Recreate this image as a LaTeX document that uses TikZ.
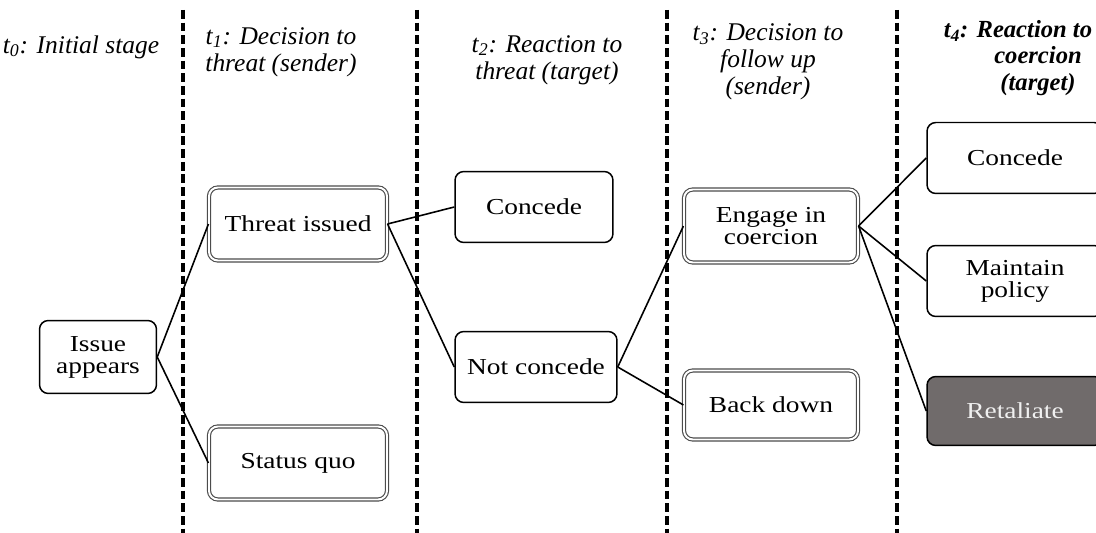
\documentclass[tikz,border=0pt]{standalone}
\usepackage{fontspec}
\setmainfont{Liberation Serif}
\newfontfamily\boxfont{Liberation Serif}[FakeStretch=1.2]
\usepackage{tikz}
\usepackage{xcolor}
\usetikzlibrary{positioning}
\definecolor{retalfill}{RGB}{112,107,107}
\definecolor{retaltext}{RGB}{240,240,240}
\begin{document}
\begin{tikzpicture}[x=0.02cm, y=-0.02cm,
		choice/.style={draw, rounded corners=5pt, line width=0.85pt, minimum height=1.42cm, align=center, inner sep=2pt, font=\boxfont\fontsize{13}{12.5}\selectfont},
		move/.style={choice, double, double distance=1.1pt, draw=black!70, line width=0.65pt, minimum height=1.46cm},
		stage/.style={align=center, font=\fontsize{14.5}{15.5}\selectfont\itshape},
		divider/.style={line width=2.3pt, dash pattern=on 5pt off 2.2pt},
		branch/.style={line width=0.9pt}]
				\useasboundingbox (0,0) rectangle (1096,533);
				% stage dividers
				\coordinate (d1top) at (183,10);
				\coordinate (d1bot) at (183,533);
				\coordinate (d2top) at (417,10);
				\coordinate (d2bot) at (417,533);
				\coordinate (d3top) at (667,10);
				\coordinate (d3bot) at (667,533);
				\coordinate (d4top) at (897,10);
				\coordinate (d4bot) at (897,533);
				\draw[divider] (d1top) to (d1bot);
				\draw[divider] (d2top) to (d2bot);
				\draw[divider] (d3top) to (d3bot);
				\draw[divider] (d4top) to (d4bot);
				% stage headings
				\node[stage] (s0) at (81,47) {t\textsubscript{0}: Initial stage};
				\node[stage] (s1) at (281,52) {t\textsubscript{1}: Decision to\\threat (sender)};
				\node[stage] (s2) at (547,60) {t\textsubscript{2}: Reaction to\\threat (target)};
				\node[stage] (s3) at (768,62) {t\textsubscript{3}: Decision to\\follow up\\(sender)};
				\node[stage, font=\fontsize{14}{15}\selectfont\bfseries\itshape] (s4) at (1018,58) {t\textsubscript{4}: Reaction to\\\hspace*{0.8cm}coercion\\\hspace*{0.8cm}(target)};
				% boxes
				\node[choice, minimum width=2.34cm, minimum height=1.46cm] (issue) at (98,357) {Issue\\appears};
				\node[move, minimum width=3.56cm] (threat) at (298,224) {Threat issued};
				\node[move, minimum width=3.56cm] (quo) at (298,463) {Status quo};
				\node[choice, minimum width=3.16cm] (concedeA) at (534,207) {Concede};
				\node[choice, minimum width=3.24cm] (notconcede) at (536,367) {Not concede};
				\node[move, minimum width=3.48cm] (engage) at (771,226) {Engage in\\coercion};
				\node[move, minimum width=3.48cm, minimum height=1.38cm] (backdown) at (771,405) {Back down};
				\node[choice, minimum width=3.52cm] (concedeB) at (1015,158) {Concede};
				\node[choice, minimum width=3.52cm] (maintain) at (1015,281) {Maintain\\policy};
				\node[choice, minimum width=3.52cm, minimum height=1.38cm, fill=retalfill, text=retaltext] (retaliate) at (1015,411) {Retaliate};
				% branches
				\draw[branch] (issue.east) to (threat.west);
				\draw[branch] (issue.east) to (quo.west);
				\draw[branch] (threat.east) to (concedeA.west);
				\draw[branch] (threat.east) to (notconcede.west);
				\draw[branch] (notconcede.east) to (engage.west);
				\draw[branch] (notconcede.east) to (backdown.west);
				\draw[branch] (engage.east) to (concedeB.west);
				\draw[branch] (engage.east) to (maintain.west);
				\draw[branch] (engage.east) to (retaliate.west);
			\end{tikzpicture}
\end{document}
